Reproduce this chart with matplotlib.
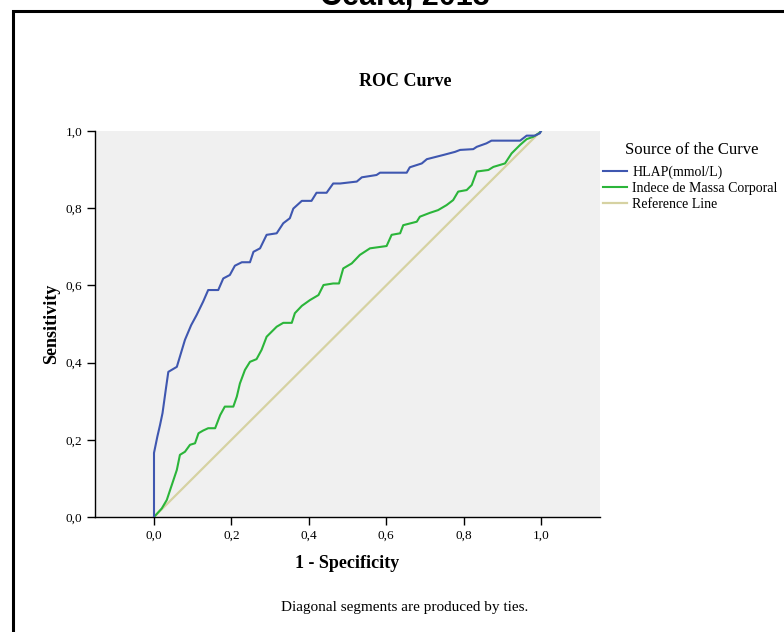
import matplotlib
matplotlib.use("Agg")
import matplotlib.pyplot as plt
from matplotlib.patches import Rectangle

# --- data ---
hlap_fpr = [0.0, 0.0, 0.0086, 0.0155, 0.022, 0.031, 0.037, 0.059, 0.080, 0.096, 0.110,
            0.127, 0.140, 0.166, 0.179, 0.196, 0.209, 0.227, 0.248, 0.257, 0.274, 0.291,
            0.317, 0.334, 0.351, 0.360, 0.382, 0.407, 0.420, 0.446, 0.463, 0.481, 0.524,
            0.537, 0.575, 0.584, 0.653, 0.661, 0.692, 0.705, 0.748, 0.778, 0.791, 0.825,
            0.834, 0.859, 0.872, 0.946, 0.963, 0.984, 0.997, 1.0]
hlap_tpr = [0.0, 0.166, 0.208, 0.238, 0.269, 0.334, 0.376, 0.389, 0.459, 0.497, 0.523,
            0.558, 0.588, 0.588, 0.618, 0.627, 0.651, 0.660, 0.660, 0.687, 0.696, 0.731,
            0.735, 0.761, 0.774, 0.799, 0.819, 0.819, 0.840, 0.840, 0.864, 0.864, 0.869,
            0.880, 0.886, 0.892, 0.892, 0.906, 0.916, 0.927, 0.938, 0.946, 0.951, 0.953,
            0.959, 0.968, 0.975, 0.975, 0.988, 0.988, 0.994, 1.0]

imc_fpr = [0.0, 0.020, 0.033, 0.046, 0.059, 0.067, 0.080, 0.093, 0.106, 0.115, 0.127,
           0.140, 0.158, 0.171, 0.183, 0.205, 0.214, 0.222, 0.235, 0.248, 0.265, 0.278,
           0.291, 0.304, 0.317, 0.334, 0.356, 0.364, 0.382, 0.403, 0.425, 0.438, 0.463,
           0.478, 0.489, 0.511, 0.532, 0.558, 0.601, 0.614, 0.636, 0.644, 0.679, 0.687,
           0.713, 0.734, 0.756, 0.773, 0.786, 0.808, 0.821, 0.834, 0.864, 0.877, 0.907,
           0.924, 0.946, 0.963, 0.980, 0.997, 1.0]
imc_tpr = [0.0, 0.022, 0.044, 0.083, 0.122, 0.161, 0.169, 0.187, 0.191, 0.217, 0.224,
           0.230, 0.230, 0.264, 0.286, 0.286, 0.312, 0.346, 0.381, 0.402, 0.409, 0.433,
           0.467, 0.480, 0.493, 0.503, 0.503, 0.528, 0.547, 0.562, 0.575, 0.601, 0.605,
           0.605, 0.644, 0.657, 0.679, 0.696, 0.702, 0.731, 0.735, 0.756, 0.765, 0.778,
           0.788, 0.795, 0.808, 0.821, 0.843, 0.847, 0.860, 0.895, 0.899, 0.907, 0.916,
           0.942, 0.964, 0.979, 0.985, 0.996, 1.0]

ref_x = [0.0, 1.0]
ref_y = [0.0, 1.0]

tick_vals = [0.0, 0.2, 0.4, 0.6, 0.8, 1.0]
tick_labels = ["0,0", "0,2", "0,4", "0,6", "0,8", "1,0"]

series_names = ["HLAP(mmol/L)", "Indece de Massa Corporal", "Reference Line"]
colors = ["#3F57B0", "#2BB53A", "#D6D2A2"]

serif = ["Liberation Serif", "DejaVu Serif"]

fig = plt.figure(figsize=(7.84, 6.32), dpi=100)

# outer frame (extends beyond right and bottom edges)
fig.patches.append(Rectangle((13 / 784, -0.05), 1.0, 1 - 11 / 632 + 0.05,
                             transform=fig.transFigure, fill=False,
                             edgecolor="black", linewidth=2.2, clip_on=False))
fig.text(405 / 784, 1 - 5 / 632, "Ceará, 2013", ha="center", va="baseline",
         fontsize=22, fontweight="bold", family=["Liberation Sans", "DejaVu Sans"])

ax = fig.add_axes([95 / 784, 1 - 517 / 632, (600 - 95) / 784, (517 - 131) / 632])
ax.set_facecolor("#F0F0F0")

ax.plot(ref_x, ref_y, color=colors[2], lw=1.6, label=series_names[2], zorder=2)
ax.plot(imc_fpr, imc_tpr, color=colors[1], lw=1.5, label=series_names[1], zorder=3)
ax.plot(hlap_fpr, hlap_tpr, color=colors[0], lw=1.5, label=series_names[0], zorder=4)

ax.set_xlim((95 - 154) / 387, (600 - 154) / 387)
ax.set_ylim(0, 1.0)
ax.set_xticks(tick_vals)
ax.set_xticklabels(tick_labels)
ax.set_yticks(tick_vals)
ax.set_yticklabels(tick_labels)
for s in ["top", "right"]:
    ax.spines[s].set_visible(False)
for s in ["left", "bottom"]:
    ax.spines[s].set_linewidth(1.0)
ax.tick_params(direction="out", length=6, width=1.0, labelsize=9.5, pad=3)
for lab in ax.get_xticklabels() + ax.get_yticklabels():
    lab.set_family(serif)

ax.set_xlabel("1 - Specificity", fontsize=13, fontweight="bold", family=serif, labelpad=10)
ax.set_ylabel("Sensitivity", fontsize=13, fontweight="bold", family=serif, labelpad=4)

fig.text(405 / 784, 1 - 81 / 632, "ROC Curve", ha="center", va="center",
         fontsize=13, fontweight="bold", family=serif)
fig.text(405 / 784, 1 - 607 / 632, "Diagonal segments are produced by ties.",
         ha="center", va="center", fontsize=11, family=serif)

# legend
fig.text(625 / 784, 1 - 150 / 632, "Source of the Curve", ha="left", va="center",
         fontsize=12, family=serif)
handles, labels = ax.get_legend_handles_labels()
order = [2, 1, 0]
leg = fig.legend([handles[i] for i in order], [labels[i] for i in order],
                 loc="upper left", bbox_to_anchor=(603 / 784, 1 - 166 / 632),
                 frameon=False, prop={"family": serif, "size": 10},
                 handlelength=1.75, handletextpad=0.35, labelspacing=0.2,
                 borderaxespad=0, borderpad=0)

fig.savefig("out.png", dpi=100)
